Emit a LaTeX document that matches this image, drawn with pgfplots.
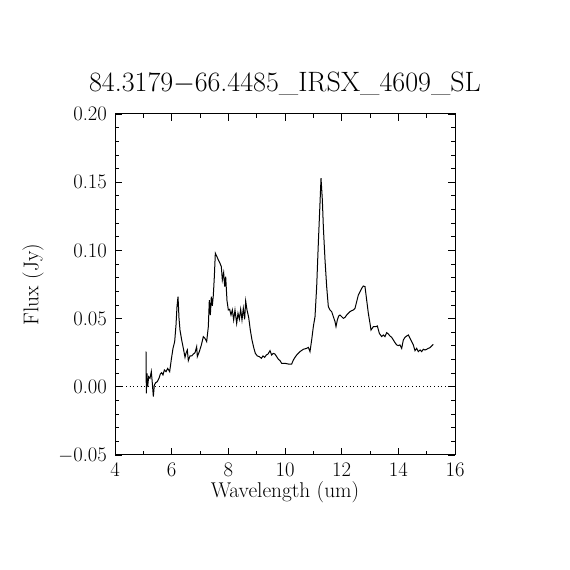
\documentclass[border=0pt]{standalone}
\usepackage{pgfplots}
\pgfplotsset{compat=1.18}
\begin{document}
\begin{tikzpicture}
\useasboundingbox (0,0) rectangle (427.5pt,427.5pt);
\begin{axis}[
  at={(86.25pt,86.25pt)}, anchor=south west,
  scale only axis, width=255pt, height=255.75pt,
  xmin=4, xmax=16, ymin=-0.05, ymax=0.20,
  xtick={4,6,...,16}, minor x tick num=1,
  ytick={-0.05,0,0.05,0.10,0.15,0.20}, minor y tick num=4,
  yticklabels={$-$0.05,0.00,0.05,0.10,0.15,0.20},
  /pgf/number format/assume math mode=true,
  scaled y ticks=false,
  tick align=inside, major tick length=5pt, minor tick length=2.7pt,
  xtick pos=both, ytick pos=both,
  tick label style={font=\fontsize{15.5}{18}\selectfont},
  xticklabel style={yshift=-2pt},
  yticklabel style={xshift=-2.5pt},
  label style={font=\fontsize{16}{19}\selectfont},
  xlabel={Wavelength (um)},
  ylabel={Flux (Jy)},
  xlabel style={at={(rel axis cs:0.5,0)}, anchor=base, yshift=-31.5pt},
  ylabel style={at={(rel axis cs:0,0.5)}, anchor=center, yshift=61.5pt},
  title={84.3179$-$66.4485\_IRSX\_4609\_SL},
  title style={font=\fontsize{21}{25}\selectfont, at={(rel axis cs:0.5,1)}, anchor=base, yshift=10.5pt},
  axis line style={line width=0.75pt},
  every tick/.style={black, line width=0.6pt},
]
\addplot[black, dotted, line width=0.75pt] coordinates {(4,0) (16,0)};
\addplot[black, line width=0.75pt] coordinates {
(5.094,0.0258) (5.106,-0.0048) (5.129,0.0099) (5.153,0.0001) (5.188,0.0074)
(5.235,0.0062) (5.282,0.0111) (5.318,0.0025) (5.353,-0.0072) (5.388,0.0013)
(5.435,0.0030) (5.494,0.0038) (5.553,0.0062) (5.600,0.0094) (5.647,0.0104)
(5.694,0.0087) (5.741,0.0123) (5.800,0.0111) (5.859,0.0135) (5.929,0.0111)
(5.988,0.0201) (6.047,0.0282) (6.106,0.0331) (6.153,0.0453) (6.188,0.0588)
(6.224,0.0661) (6.259,0.0502) (6.294,0.0416) (6.353,0.0343) (6.412,0.0282)
(6.471,0.0216) (6.506,0.0246) (6.553,0.0270) (6.588,0.0192) (6.647,0.0226)
(6.706,0.0226) (6.765,0.0240) (6.824,0.0250) (6.882,0.0294) (6.906,0.0221)
(6.976,0.0258) (7.047,0.0306) (7.118,0.0368) (7.176,0.0355) (7.235,0.0331)
(7.294,0.0441) (7.329,0.0636) (7.365,0.0526) (7.400,0.0661) (7.435,0.0593)
(7.471,0.0673) (7.506,0.0808) (7.541,0.0979) (7.588,0.0959) (7.647,0.0930)
(7.706,0.0905) (7.753,0.0881) (7.788,0.0783) (7.835,0.0837) (7.871,0.0734)
(7.906,0.0808) (7.953,0.0631) (8.000,0.0563) (8.047,0.0568) (8.094,0.0526)
(8.141,0.0563) (8.188,0.0490) (8.235,0.0563) (8.294,0.0465) (8.341,0.0539)
(8.388,0.0495) (8.435,0.0568) (8.482,0.0490) (8.529,0.0575) (8.576,0.0495)
(8.612,0.0629) (8.659,0.0563) (8.718,0.0509) (8.776,0.0416) (8.835,0.0343)
(8.894,0.0289) (8.953,0.0245) (9.024,0.0226) (9.094,0.0221) (9.165,0.0209)
(9.224,0.0226) (9.282,0.0216) (9.341,0.0233) (9.400,0.0240) (9.471,0.0265)
(9.529,0.0233) (9.588,0.0245) (9.647,0.0240) (9.706,0.0221) (9.765,0.0202)
(9.824,0.0192) (9.882,0.0172) (9.999,0.0172) (10.118,0.0167) (10.235,0.0167)
(10.294,0.0196) (10.353,0.0216) (10.412,0.0233) (10.529,0.0258) (10.647,0.0275)
(10.765,0.0282) (10.824,0.0289) (10.882,0.0258) (10.941,0.0343) (11.000,0.0441)
(11.059,0.0514) (11.118,0.0734) (11.176,0.1052) (11.235,0.1345) (11.271,0.1529)
(11.318,0.1370) (11.353,0.1174) (11.412,0.0930) (11.471,0.0734) (11.529,0.0588)
(11.588,0.0563) (11.647,0.0551) (11.706,0.0514) (11.765,0.0478) (11.800,0.0441)
(11.847,0.0490) (11.894,0.0519) (11.941,0.0526) (12.000,0.0514) (12.059,0.0502)
(12.118,0.0509) (12.176,0.0526) (12.235,0.0539) (12.294,0.0551) (12.353,0.0558)
(12.412,0.0563) (12.471,0.0575) (12.529,0.0624) (12.588,0.0673) (12.647,0.0697)
(12.706,0.0722) (12.765,0.0739) (12.824,0.0734) (12.882,0.0636) (12.941,0.0539)
(13.000,0.0465) (13.035,0.0416) (13.118,0.0441) (13.212,0.0441) (13.259,0.0446)
(13.329,0.0392) (13.412,0.0368) (13.471,0.0380) (13.529,0.0368) (13.588,0.0397)
(13.647,0.0387) (13.706,0.0372) (13.765,0.0363) (13.824,0.0343) (13.882,0.0324)
(13.941,0.0307) (14.000,0.0302) (14.059,0.0307) (14.118,0.0282) (14.176,0.0343)
(14.235,0.0363) (14.294,0.0372) (14.353,0.0380) (14.412,0.0355) (14.471,0.0331)
(14.529,0.0307) (14.588,0.0265) (14.647,0.0282) (14.706,0.0258) (14.765,0.0270)
(14.824,0.0258) (14.882,0.0275) (14.941,0.0270) (15.000,0.0275) (15.059,0.0282)
(15.118,0.0287) (15.176,0.0299) (15.235,0.0311)
};
\end{axis}
\end{tikzpicture}
\end{document}
